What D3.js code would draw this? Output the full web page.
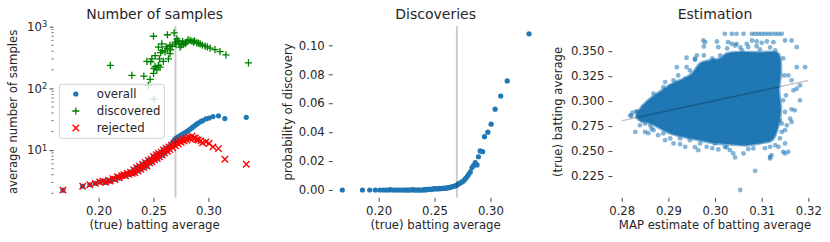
<!DOCTYPE html>
<html>
  <head>
    <meta charset="utf-8">
    <title>Samples, discoveries, estimation</title>
    <script src="https://d3js.org/d3.v7.min.js"></script>
    <style type="text/css">
      body {
        margin: 0;
        background-color: #FFFFFF;
        font-family: "DejaVu Sans", sans-serif;
      }
      .tick text { font-size: 11.7px; fill: #262626; }
      .tick line { stroke: #333333; stroke-width: 0.9; }
      .title { font-size: 14px; fill: #262626; text-anchor: middle; }
      .label { font-size: 11.7px; fill: #262626; text-anchor: middle; }
    </style>
  </head>
  <body>
  <script type="text/javascript">
    // ---- data ----
    // true batting average of each group
    var avg = [0.1675,0.1855,0.192,0.197,0.201,0.204,0.2065,0.209,0.2105,0.213,
               0.215,0.217,0.219,0.221,0.223,0.2245,0.226,0.2275,0.229,0.2305,
               0.232,0.233,0.2345,0.236,0.237,0.2385,0.240,0.2412,0.2425,0.244,
               0.2453,0.2465,0.2478,0.2485,0.250,0.251,0.2525,0.2535,0.2545,0.2555,
               0.257,0.258,0.259,0.260,0.2615,0.2627,0.264,0.265,0.2662,0.2675,
               0.2688,0.270,0.2713,0.2725,0.274,0.2752,0.2765,0.278,0.2795,0.2805,
               0.282,0.2835,0.285,0.2864,0.288,0.2893,0.2908,0.293,0.2947,0.2977,
               0.3006,0.3042,0.3092,0.315,0.3345];
    // average number of samples, all players
    var overall = [2.25,2.6,2.75,2.9,3.05,3.15,3.0,3.25,3.15,3.45,
                   3.35,3.7,3.55,3.85,4.0,3.85,4.2,4.05,4.4,4.2,
                   4.8,4.3,5.2,4.6,5.5,4.9,5.9,5.2,6.3,5.5,
                   6.8,6.2,7.1,6.5,7.9,7.0,8.4,7.3,8.8,7.8,
                   9.3,8.3,10.1,9.0,10.7,9.6,11.3,11.2,12.5,13.4,
                   14.5,15.2,15.8,16.4,17.0,17.6,18.2,18.8,19.5,20.2,
                   21.0,22.0,23.0,24.0,25.2,26.3,27.5,29.0,30.0,32.0,
                   33.0,35.0,36.0,32.5,34.0];
    // average number of samples, rejected players
    var rejected = [2.25,2.6,2.75,2.9,3.05,3.15,3.0,3.25,3.15,3.45,
                    3.35,3.7,3.55,3.85,4.0,3.85,4.2,4.05,4.4,4.2,
                    4.8,4.3,5.2,4.6,5.5,4.9,5.9,5.2,6.3,5.5,
                    6.8,6.2,7.1,6.5,7.9,7.0,8.4,7.3,8.8,7.8,
                    9.3,8.3,10.1,9.0,10.7,9.6,11.3,10.2,12.0,10.9,
                    12.8,11.8,13.6,12.6,14.4,13.3,15.2,14.0,15.6,14.5,
                    16.2,15.2,16.8,15.6,15.8,14.8,14.6,14.1,13.2,13.6,
                    12.8,11.3,10.6,7.1,5.9];
    // probability of discovery
    var probability = [0,0,0,0,0,0,0,0,0.0002,0,
                       0,0,0,0,0,0,0,0,0,0.0003,
                       0,0,0,0,0,0,0,0.0004,0,0.0005,
                       0.0006,0.0003,0.0005,0.0008,0.001,0.0007,0.0009,0.0008,0.0011,0.0009,
                       0.0012,0.0011,0.0013,0.0012,0.0015,0.0016,0.0019,0.002,0.0024,0.0026,
                       0.003,0.0033,0.0042,0.0046,0.0054,0.0058,0.0068,0.0082,0.0096,0.0108,
                       0.0125,0.0155,0.017,0.0189,0.0173,0.023,0.027,0.0265,0.0369,0.040,
                       0.0455,0.0559,0.065,0.0754,0.108];
    // discovered players: batting average and average number of samples
    var discAvg = [0.2107,0.2303,0.2412,0.244,0.2453,0.2469,0.2475,0.2485,0.250,0.250,
                   0.2505,0.2505,0.2515,0.2515,0.253,0.2545,0.2545,0.2555,0.256,0.2565,
                   0.2576,0.258,0.259,0.2605,0.2615,0.2627,0.2627,0.2636,0.265,0.265,
                   0.2655,0.267,0.2688,0.2697,0.2705,0.2713,0.2725,0.2735,0.2743,0.2755,
                   0.2765,0.2773,0.279,0.2803,0.2815,0.2834,0.285,0.2864,0.2875,0.2894,
                   0.291,0.2925,0.2945,0.297,0.299,0.3015,0.306,0.3106,0.316,0.3365];
    var discSamples = [236,162,158,275,112,140,270,300,700,175,
                       67,210,340,225,200,236,465,300,221,380,
                       525,410,275,390,470,740,440,300,365,500,
                       420,480,795,560,520,635,590,540,465,505,
                       580,520,530,560,610,600,580,560,590,545,
                       540,525,500,485,470,450,425,395,350,260];
    var verticalAt = 0.27;

    // estimation panel: outline of the saturated core of the cloud
    var coreMap  = [0.2831,0.2850,0.2871,0.2893,0.2914,0.2936,0.2953,0.2968,0.2989,0.3011,0.3026,0.3096,0.3135,
                    0.3141,0.3137,0.3141,0.3133,0.3122,0.3096,0.3064,0.3032,0.3000,0.2968,0.2936,0.2903,0.2882,0.2861,0.2839];
    var coreTrue = [0.2848,0.2978,0.3058,0.3128,0.3188,0.3228,0.3287,0.3377,0.3407,0.3427,0.3477,0.3487,0.3477,
                    0.3307,0.3108,0.2908,0.2709,0.2609,0.2579,0.2559,0.2569,0.2579,0.2609,0.2639,0.2679,0.2729,0.2779,0.2808];
    // estimation panel: loose points around the core
    var mapEst = [0.3021,0.3036,0.3046,0.3061,0.3079,0.3086,0.3093,0.3100,0.3107,0.3114,0.3121,0.3129,0.3136,0.3143,
                  0.2975,0.3004,0.3007,0.3028,0.3036,0.3046,0.3068,0.3079,0.3089,0.3100,0.3111,0.3125,0.3150,0.3164,
                  0.3175,0.3071,0.3089,0.3054,0.3118,0.2979,
                  0.2918,0.2957,0.2961,0.2996,0.2936,0.2911,0.2889,0.2868,0.2861,0.2846,0.2823,0.2818,0.2832,0.2829,
                  0.2854,0.2850,0.2864,0.2893,0.2939,0.2976,0.2939,0.2957,0.2976,
                  0.3175,0.3193,0.3182,0.3168,0.3164,0.3157,0.3182,0.3175,0.3171,0.3164,0.3150,0.3150,0.3157,0.3150,
                  0.3136,0.3161,0.3164,0.3150,0.3143,0.3154,0.3143,0.3146,
                  0.3086,0.3054,0.3118,0.3121,0.3139,0.3043,0.3039,0.3061,0.3082,0.3025,0.3007,0.2982,0.2964,0.2936,
                  0.2946,0.2911,0.2850,0.2868,0.2832,0.2821,0.2843,0.2861,0.2878,0.2889,0.2904,0.2925,0.2968,0.3000,
                  0.3021,0.3068,0.3096,0.3118,0.3118,
                  0.2857,0.2871,0.2882,0.2899,0.2925,0.2946,0.2964,0.2979,0.2994,0.3011,0.3058,0.3096,0.3129,0.3146,
                  0.3148,0.3152,0.2839,0.2857,0.2893,0.2925,0.2957,0.2994,0.3032,0.3071,0.3107,0.3129,0.3139,0.3146,
                  0.2843,0.2904,0.2968,0.2946,0.2921,0.3043,0.3026];
    var trueAvg = [0.3674,0.3674,0.3674,0.3674,0.3674,0.3674,0.3674,0.3674,0.3674,0.3674,0.3674,0.3674,0.3674,0.3674,
                   0.3607,0.3597,0.3540,0.3590,0.3574,0.3574,0.3574,0.3607,0.3597,0.3584,0.3597,0.3590,0.3607,0.3607,
                   0.3540,0.3540,0.3550,0.3537,0.3537,0.3590,
                   0.3340,0.3424,0.3457,0.3407,0.3225,0.3208,0.3141,0.3075,0.2975,0.2941,0.2885,0.2858,0.2898,0.2692,
                   0.2908,0.2775,0.2726,0.3191,0.3340,0.3547,0.3434,0.3414,0.3457,
                   0.3340,0.3340,0.3158,0.3108,0.3208,0.3257,0.3008,0.3125,0.2908,0.2791,0.2709,0.2576,0.2492,0.2476,
                   0.2542,0.2825,0.2918,0.2891,0.2775,0.2758,0.2692,0.2492,
                   0.2302,0.2110,0.2426,0.2459,0.2626,0.2436,0.2476,0.2476,0.2526,0.2536,0.2516,0.2542,0.2509,0.2542,
                   0.2609,0.2576,0.2692,0.2709,0.2891,0.2851,0.2808,0.2758,0.2659,0.2676,0.2626,0.2626,0.2576,0.2576,
                   0.2542,0.2576,0.2592,0.2542,0.2442,
                   0.2958,0.3008,0.3058,0.3108,0.3158,0.3228,0.3287,0.3357,0.3427,0.3457,0.3507,0.3517,0.3507,0.3427,
                   0.3257,0.3058,0.2758,0.2679,0.2609,0.2569,0.2539,0.2529,0.2509,0.2519,0.2529,0.2559,0.2808,0.3008,
                   0.2888,0.3148,0.3307,0.3307,0.3257,0.3557,0.3527];
    var refLineX = [0.28, 0.32];
    var refLineY = [0.2803, 0.3207];

    var xTicks1 = [0.20, 0.25, 0.30],
        yTicks1 = [10, 100, 1000],
        yTicks2 = [0, 0.02, 0.04, 0.06, 0.08, 0.10],
        xTicks3 = [0.28, 0.29, 0.30, 0.31, 0.32],
        yTicks3 = [0.225, 0.250, 0.275, 0.300, 0.325, 0.350];

    // ---- layout ----
    var W = 830, H = 242, TOP = 26, BOTTOM = 197.8;
    var BLUE = "#1f77b4";

    var svg = d3.select("body").append("svg")
        .attr("width", W)
        .attr("height", H);

    var x1 = d3.scaleLinear().domain([0.159, 0.343]).range([53.6, 255.6]);
    var y1 = d3.scaleLog().domain([1.69, 1025]).range([BOTTOM, TOP]);
    var x2 = d3.scaleLinear().domain([0.159, 0.343]).range([332.8, 538.5]);
    var y2 = d3.scaleLinear().domain([-0.0054, 0.1134]).range([BOTTOM, TOP]);
    var x3 = d3.scaleLinear().domain([0.278, 0.322]).range([612.4, 817.7]);
    var y3 = d3.scaleLinear().domain([0.2032, 0.3752]).range([BOTTOM, TOP]);

    function styleAxis(g) {
      g.select(".domain").remove();
      g.selectAll("text").attr("font-family", "DejaVu Sans");
    }

    function xAxis(scale, ticks, fmt) {
      svg.append("g")
          .attr("transform", "translate(0," + BOTTOM + ")")
          .call(d3.axisBottom(scale).tickValues(ticks).tickSize(4).tickPadding(5)
            .tickFormat(d3.format(fmt)))
          .call(styleAxis);
    }

    function leftAxis(xpos, scale, ticks, fmt, pad) {
      return svg.append("g")
          .attr("transform", "translate(" + xpos + ",0)")
          .call(d3.axisLeft(scale).tickValues(ticks).tickSize(4).tickPadding(pad)
            .tickFormat(fmt))
          .call(styleAxis);
    }

    function title(cx, txt) {
      svg.append("text").attr("class", "title")
          .attr("x", cx).attr("y", 18.5).text(txt);
    }

    function xLabel(cx, txt) {
      svg.append("text").attr("class", "label")
          .attr("x", cx).attr("y", 229).text(txt);
    }

    function yLabel(bx, txt) {
      svg.append("text").attr("class", "label")
          .attr("transform", "translate(" + bx + "," + ((TOP + BOTTOM) / 2) + ") rotate(-90)")
          .text(txt);
    }

    function vline(xs) {
      svg.append("line")
          .attr("x1", xs(verticalAt)).attr("x2", xs(verticalAt))
          .attr("y1", TOP).attr("y2", BOTTOM)
          .attr("stroke", "#000").attr("stroke-opacity", 0.2)
          .attr("stroke-width", 2);
    }

    var plusPath = "M-3.6,0H3.6M0,-3.6V3.6",
        crossPath = "M-3.2,-3.2L3.2,3.2M-3.2,3.2L3.2,-3.2";

    // ---- panel 1: number of samples ----
    var rows = avg.map(function(a, i) {
      return {x: a, overall: overall[i], rejected: rejected[i], p: probability[i]};
    });
    var disc = discAvg.map(function(a, i) { return {x: a, y: discSamples[i]}; });

    xAxis(x1, xTicks1, ".2f");
    var ax1 = leftAxis(53.6, y1, yTicks1, function() { return ""; }, 2.5);
    ax1.selectAll(".tick text").each(function(d) {
      var t = d3.select(this);
      t.append("tspan").text("10");
      t.append("tspan").attr("dy", "-0.45em").attr("font-size", "8.2px")
          .text(Math.round(Math.log10(d)));
    });
    // minor ticks
    var minors = [];
    [1, 10, 100].forEach(function(dec) {
      d3.range(2, 10).forEach(function(m) { if (m * dec >= 1.69) minors.push(m * dec); });
    });
    svg.append("g").selectAll("line")
        .data(minors)
      .enter().append("line")
        .attr("x1", 51.4).attr("x2", 53.6)
        .attr("y1", function(d) { return y1(d); })
        .attr("y2", function(d) { return y1(d); })
        .attr("stroke", "#333").attr("stroke-width", 0.7);

    svg.append("g").selectAll("circle")
        .data(rows)
      .enter().append("circle")
        .attr("cx", function(d) { return x1(d.x); })
        .attr("cy", function(d) { return y1(d.overall); })
        .attr("r", 2.6)
        .attr("fill", BLUE);

    svg.append("g").selectAll("path")
        .data(disc)
      .enter().append("path")
        .attr("transform", function(d) { return "translate(" + x1(d.x) + "," + y1(d.y) + ")"; })
        .attr("d", plusPath)
        .attr("stroke", "#008000").attr("stroke-width", 1.3).attr("fill", "none");

    svg.append("g").selectAll("path")
        .data(rows)
      .enter().append("path")
        .attr("transform", function(d) { return "translate(" + x1(d.x) + "," + y1(d.rejected) + ")"; })
        .attr("d", crossPath)
        .attr("stroke", "#ff0000").attr("stroke-width", 1.4).attr("fill", "none");

    vline(x1);

    // legend
    var leg = svg.append("g").attr("transform", "translate(59.3,84.3)");
    leg.append("rect")
        .attr("width", 105).attr("height", 54).attr("rx", 2.5)
        .attr("fill", "#fff").attr("fill-opacity", 0.8)
        .attr("stroke", "#cccccc").attr("stroke-width", 0.9);
    var legItems = ["overall", "discovered", "rejected"];
    legItems.forEach(function(name, i) {
      var cy = 9.7 + i * 17;
      if (i === 0) leg.append("circle").attr("cx", 16.5).attr("cy", cy).attr("r", 2.6).attr("fill", BLUE);
      if (i === 1) leg.append("path").attr("transform", "translate(16.5," + cy + ")")
          .attr("d", plusPath).attr("stroke", "#008000").attr("stroke-width", 1.3);
      if (i === 2) leg.append("path").attr("transform", "translate(16.5," + cy + ")")
          .attr("d", crossPath).attr("stroke", "#ff0000").attr("stroke-width", 1.4);
      leg.append("text").attr("x", 37.5).attr("y", cy).attr("dy", "0.35em")
          .attr("font-size", "11.7px").attr("fill", "#262626").text(name);
    });

    title(154.6, "Number of samples");
    xLabel(154.6, "(true) batting average");
    yLabel(16.5, "average number of samples");

    // ---- panel 2: discoveries ----
    xAxis(x2, xTicks1, ".2f");
    leftAxis(332.8, y2, yTicks2, d3.format(".2f"), 4);

    svg.append("g").selectAll("circle")
        .data(rows)
      .enter().append("circle")
        .attr("cx", function(d) { return x2(d.x); })
        .attr("cy", function(d) { return y2(d.p); })
        .attr("r", 2.6)
        .attr("fill", BLUE);

    vline(x2);

    title(435.6, "Discoveries");
    xLabel(435.6, "(true) batting average");
    yLabel(291.5, "probability of discovery");

    // ---- panel 3: estimation ----
    xAxis(x3, xTicks3, ".2f");
    leftAxis(612.4, y3, yTicks3, d3.format(".3f"), 4);

    var core = coreMap.map(function(m, i) { return [m, coreTrue[i]]; });
    svg.append("path")
        .datum(core)
        .attr("d", d3.line()
          .x(function(d) { return x3(d[0]); })
          .y(function(d) { return y3(d[1]); })
          .curve(d3.curveCatmullRomClosed))
        .attr("fill", BLUE)
        .attr("stroke", BLUE).attr("stroke-opacity", 0.55).attr("stroke-width", 3);

    svg.append("g").selectAll("circle")
        .data(mapEst.map(function(m, i) { return [m, trueAvg[i]]; }))
      .enter().append("circle")
        .attr("cx", function(d) { return x3(d[0]); })
        .attr("cy", function(d) { return y3(d[1]); })
        .attr("r", 2.4)
        .attr("fill", BLUE)
        .attr("fill-opacity", 0.55);

    svg.append("line")
        .attr("x1", x3(refLineX[0])).attr("y1", y3(refLineY[0]))
        .attr("x2", x3(refLineX[1])).attr("y2", y3(refLineY[1]))
        .attr("stroke", "#000").attr("stroke-opacity", 0.22).attr("stroke-width", 1.6);

    title(715, "Estimation");
    xLabel(715, "MAP estimate of batting average");
    yLabel(562, "(true) batting average");
  </script>
  </body>
</html>
